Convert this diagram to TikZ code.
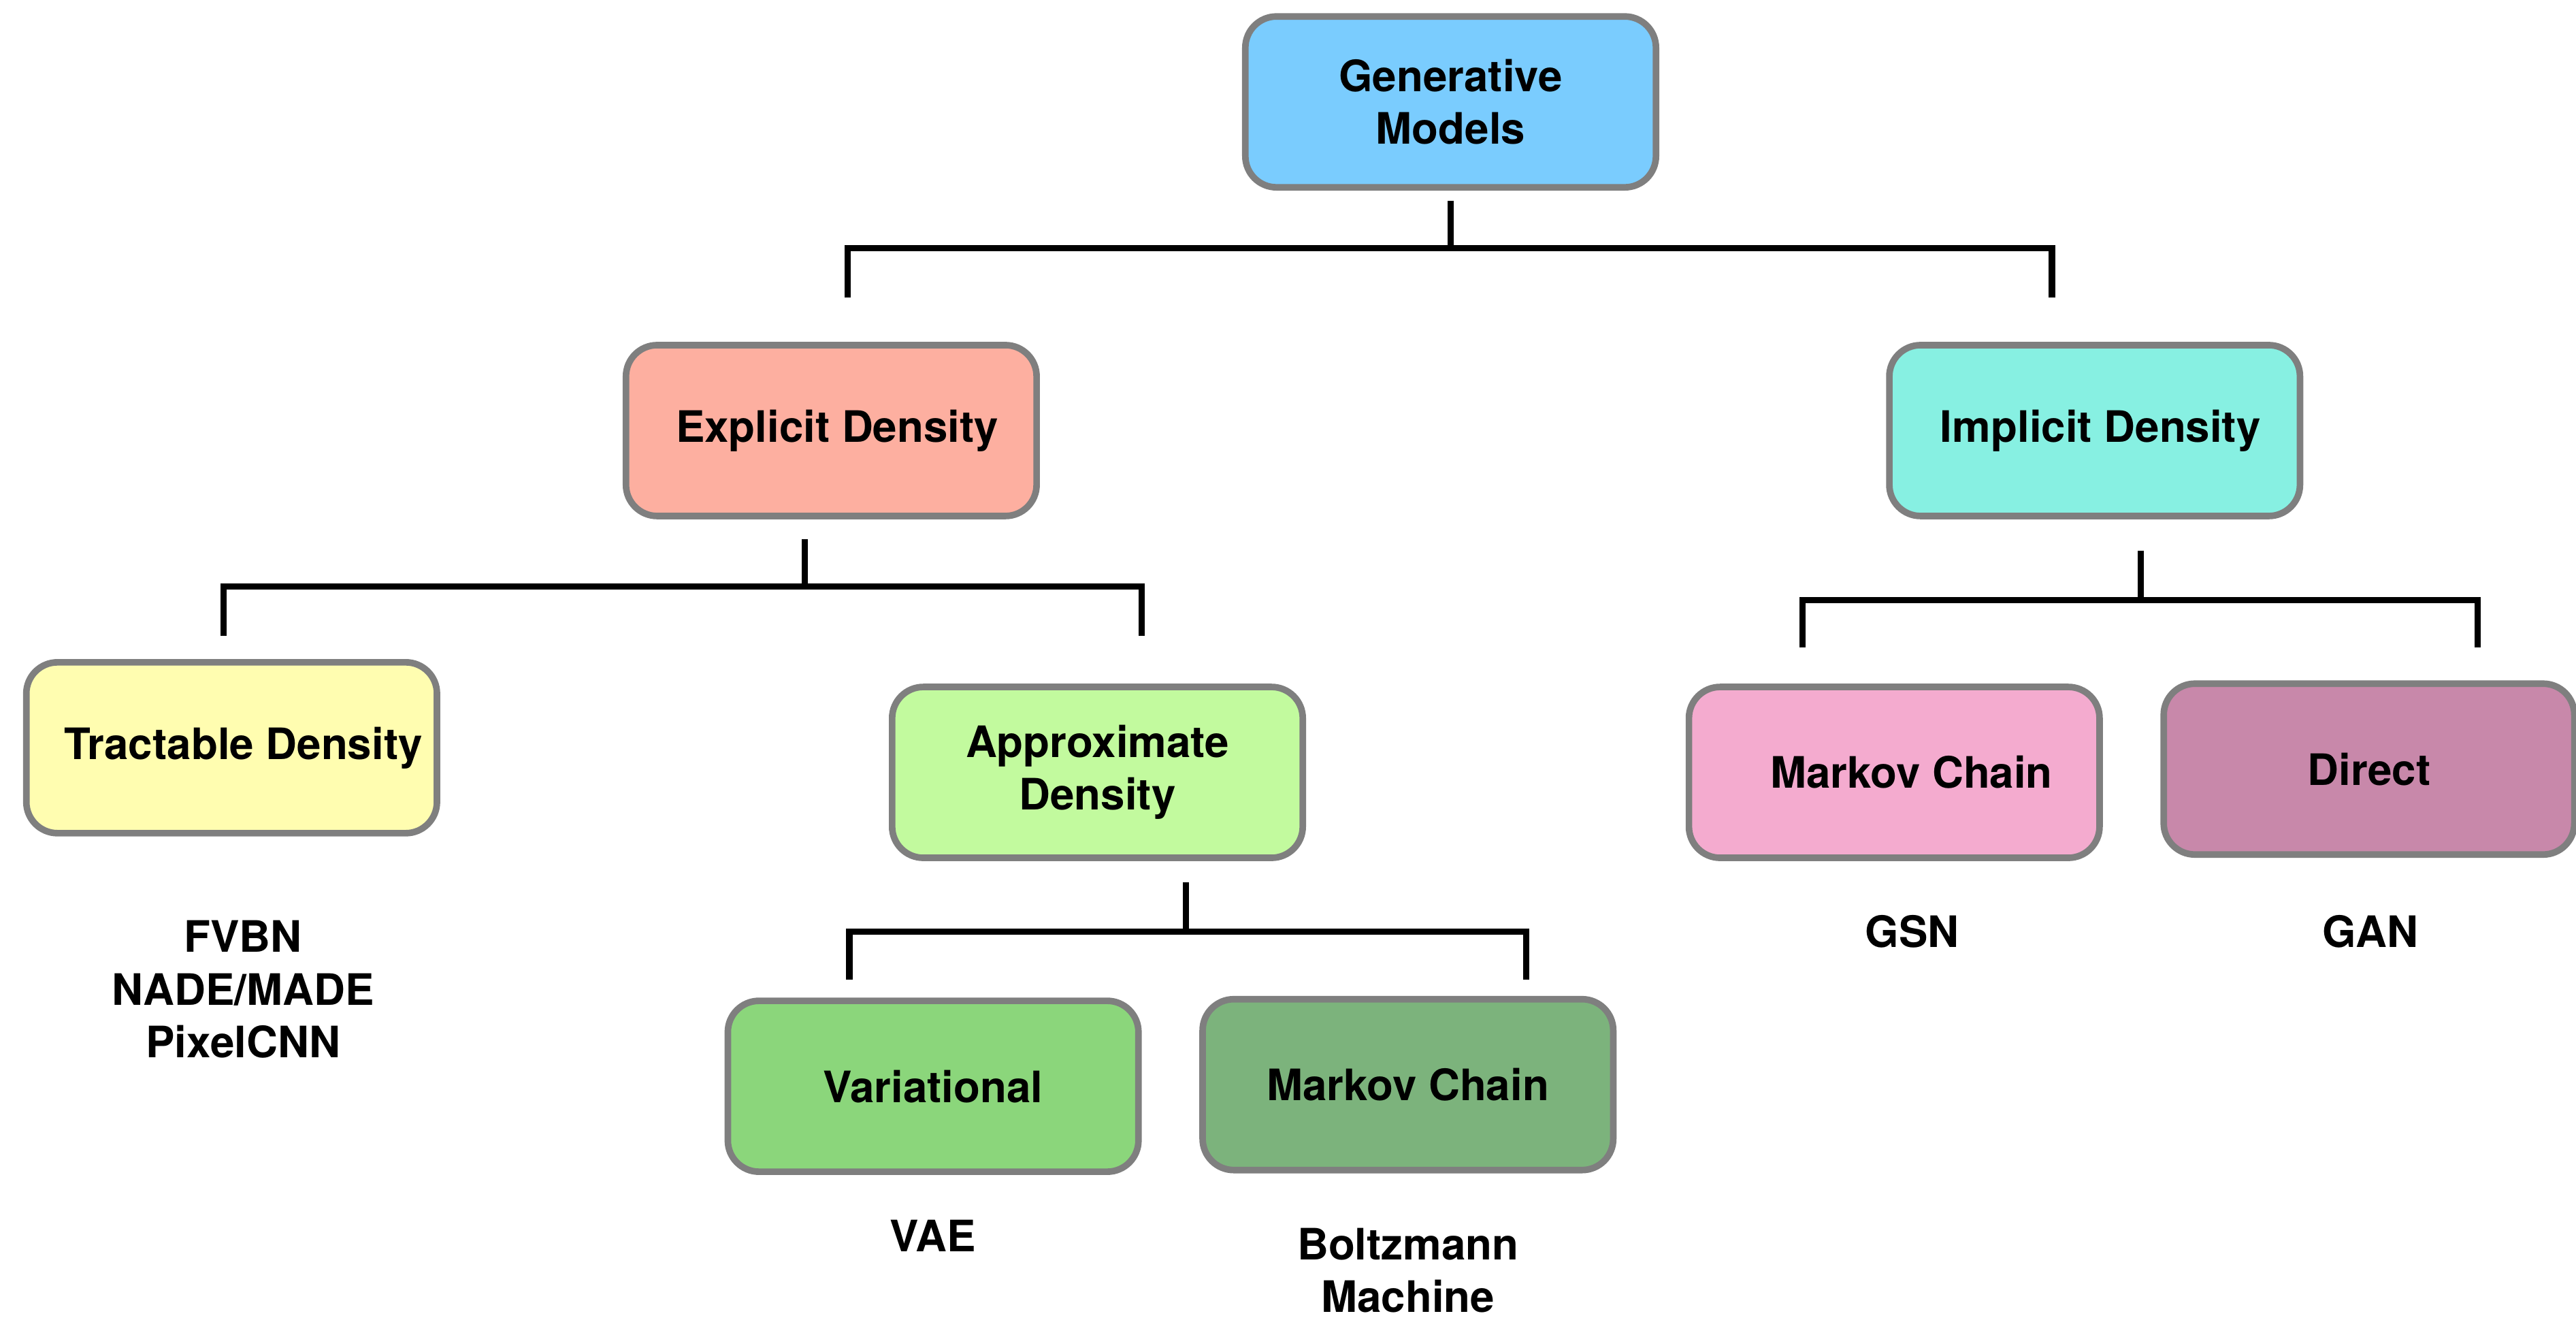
\documentclass[tikz,border=0pt]{standalone}
\usepackage{fontspec}
\setmainfont{TeX Gyre Heros}
\definecolor{boxgray}{HTML}{7F7F7F}
\definecolor{genblue}{HTML}{7ACCFE}
\definecolor{explicitfill}{HTML}{FDAFA0}
\definecolor{implicitfill}{HTML}{87F0E2}
\definecolor{tractfill}{HTML}{FFFDB0}
\definecolor{approxfill}{HTML}{C2FA9E}
\definecolor{varfill}{HTML}{8BD67B}
\definecolor{mcgreen}{HTML}{7CB37C}
\definecolor{mcpink}{HTML}{F4ABCF}
\definecolor{directfill}{HTML}{C888AA}
\begin{document}
\begin{tikzpicture}[x=0.02cm,y=-0.02cm,
  txt/.style={font=\fontsize{15}{18.2}\selectfont\bfseries, align=center},
  box/.style={txt, draw=boxgray, line width=0.08cm, rounded corners=0.38cm,
    minimum width=5cm, minimum height=2.08cm, inner sep=0pt},
  tag/.style={txt, inner sep=0pt},
  conn/.style={line width=0.075cm, black}]
\useasboundingbox (0,0) rectangle (1568,802);

% category boxes
\node[box, fill=genblue]      (gen)   at (883,62)   {Generative\\Models};
\node[box, fill=explicitfill] (expl)  at (506,262)  {\hspace*{4pt}Explicit Density};
\node[box, fill=implicitfill] (impl)  at (1275,262) {\hspace*{4pt}Implicit Density};
\node[box, fill=tractfill]    (tract) at (141,455)  {\hspace*{8pt}Tractable Density};
\node[box, fill=approxfill]   (appr)  at (668,470)  {Approximate\\Density};
\node[box, fill=varfill]      (var)   at (568,661)  {Variational};
\node[box, fill=mcgreen]      (mcg)   at (857,660)  {Markov Chain};
\node[box, fill=mcpink]       (mcp)   at (1153,470) {\hspace*{12pt}Markov Chain};
\node[box, fill=directfill]   (dir)   at (1442,468) {Direct};

% example models
\node[tag] (tractex) at (148,602)  {FVBN\\NADE/MADE\\PixelCNN};
\node[tag] (varex)   at (568,752)  {VAE};
\node[tag] (mcgex)   at (857,773)  {Boltzmann\\Machine};
\node[tag] (mcpex)   at (1164,567) {GSN};
\node[tag] (direx)   at (1443,567) {GAN};

% bracket connectors
\coordinate (gs) at (883,122);  \coordinate (gb) at (883,151);
\coordinate (gl) at (516,181);  \coordinate (gr) at (1249,181);
\draw[conn] (gs) -- (gb);
\draw[conn] (gl) -- (gl |- gb) -- (gr |- gb) -- (gr);

\coordinate (es) at (490,328);  \coordinate (eb) at (490,357);
\coordinate (el) at (136,387);  \coordinate (er) at (695,387);
\draw[conn] (es) -- (eb);
\draw[conn] (el) -- (el |- eb) -- (er |- eb) -- (er);

\coordinate (is) at (1303,335); \coordinate (ib) at (1303,365);
\coordinate (il) at (1097,394); \coordinate (ir) at (1508,394);
\draw[conn] (is) -- (ib);
\draw[conn] (il) -- (il |- ib) -- (ir |- ib) -- (ir);

\coordinate (as) at (722,537);  \coordinate (ab) at (722,567);
\coordinate (al) at (517,596);  \coordinate (ar) at (929,596);
\draw[conn] (as) -- (ab);
\draw[conn] (al) -- (al |- ab) -- (ar |- ab) -- (ar);
\end{tikzpicture}
\end{document}
